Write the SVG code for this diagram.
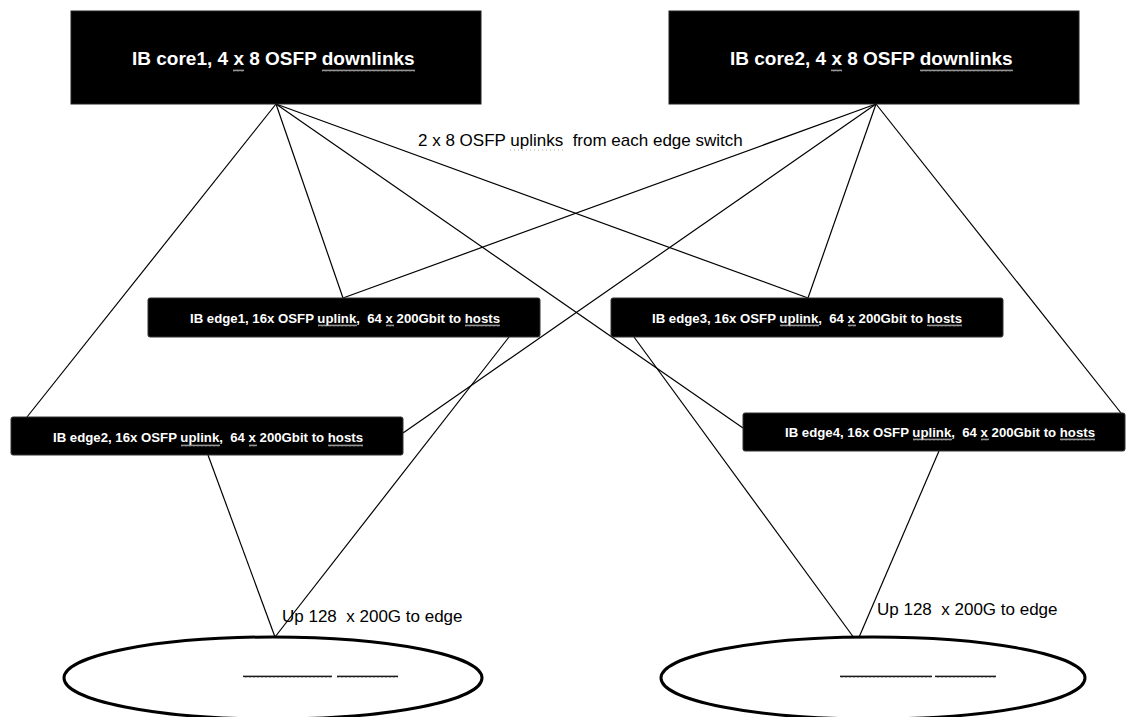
<svg xmlns="http://www.w3.org/2000/svg" width="1126" height="717" viewBox="0 0 1126 717">
<style>
text{white-space:pre}
.core{fill:#000;stroke:#222;stroke-width:1}
.edge{fill:#000;stroke:#333;stroke-width:1}
.ct{font-family:"Liberation Sans",Arial,sans-serif;font-weight:bold;font-size:19px;fill:#fff}
.et{font-family:"Liberation Sans",Arial,sans-serif;font-weight:bold;font-size:13.2px;fill:#fff}
.lbl{font-family:"Liberation Sans",Arial,sans-serif;font-size:17px;fill:#000}
.conn line{stroke:#000;stroke-width:1.2}
.pool{fill:#fff;stroke:#000;stroke-width:3}
</style>
<defs>
<pattern id="wg" width="4" height="3" patternUnits="userSpaceOnUse"><path d="M0 2.4 L1 0.6 L2 2.4 L3 0.6 L4 2.4" fill="none" stroke="#bbb" stroke-width="0.8"/></pattern>
<pattern id="wk" width="4" height="3" patternUnits="userSpaceOnUse"><path d="M0 2.4 L1 0.6 L2 2.4 L3 0.6 L4 2.4" fill="none" stroke="#000" stroke-width="0.9"/></pattern>
</defs>
<rect width="1126" height="717" fill="#fff"/>
<g id="connectors" class="conn">
<line x1="276" y1="104" x2="27" y2="417"/>
<line x1="276" y1="104" x2="343" y2="298"/>
<line x1="276" y1="104" x2="808" y2="298"/>
<line x1="276" y1="104" x2="743" y2="428"/>
<line x1="876" y1="104" x2="343" y2="298"/>
<line x1="876" y1="104" x2="403" y2="433"/>
<line x1="876" y1="104" x2="808" y2="298"/>
<line x1="876" y1="104" x2="1121" y2="413"/>
<line x1="509" y1="337" x2="275" y2="637"/>
<line x1="208" y1="455" x2="275" y2="637"/>
<line x1="634" y1="337" x2="857" y2="642"/>
<line x1="939" y1="451" x2="857" y2="642"/>
</g>
<g id="core1">
<rect class="core" x="71" y="11" width="410" height="93"/>
<text class="ct" x="132" y="65">IB core1, 4 x 8 OSFP downlinks</text>
<rect x="233" y="69" width="11" height="3" fill="url(#wg)"/>
<rect x="322" y="69" width="93" height="3" fill="url(#wg)"/>
</g>
<g id="core2">
<rect class="core" x="669" y="11" width="410" height="93"/>
<text class="ct" x="730" y="65">IB core2, 4 x 8 OSFP downlinks</text>
<rect x="831" y="69" width="11" height="3" fill="url(#wg)"/>
<rect x="920" y="69" width="93" height="3" fill="url(#wg)"/>
</g>
<g id="uplinks-label">
<text class="lbl" x="418" y="146">2 x 8 OSFP uplinks  from each edge switch</text>
<line x1="510" y1="150" x2="564" y2="150" stroke="#aaa" stroke-width="1" stroke-dasharray="1 3"/>
</g>
<g id="edge1">
<rect class="edge" x="148" y="298" width="392" height="39" rx="2"/>
<text class="et" x="190" y="323" textLength="310">IB edge1, 16x OSFP uplink,  64 x 200Gbit to hosts</text>
<rect x="318" y="324" width="39" height="3" fill="url(#wg)"/>
<rect x="386" y="324" width="8" height="3" fill="url(#wg)"/>
<rect x="465" y="324" width="35" height="3" fill="url(#wg)"/>
</g>
<g id="edge3">
<rect class="edge" x="611" y="298" width="392" height="39" rx="2"/>
<text class="et" x="652" y="323" textLength="310">IB edge3, 16x OSFP uplink,  64 x 200Gbit to hosts</text>
<rect x="780" y="324" width="39" height="3" fill="url(#wg)"/>
<rect x="848" y="324" width="8" height="3" fill="url(#wg)"/>
<rect x="927" y="324" width="35" height="3" fill="url(#wg)"/>
</g>
<g id="edge2">
<rect class="edge" x="11" y="417" width="392" height="38" rx="2"/>
<text class="et" x="53" y="442" textLength="310">IB edge2, 16x OSFP uplink,  64 x 200Gbit to hosts</text>
<rect x="181" y="444" width="39" height="3" fill="url(#wg)"/>
<rect x="249" y="444" width="8" height="3" fill="url(#wg)"/>
<rect x="328" y="444" width="35" height="3" fill="url(#wg)"/>
</g>
<g id="edge4">
<rect class="edge" x="743" y="413" width="382" height="38" rx="2"/>
<text class="et" x="785" y="437" textLength="310">IB edge4, 16x OSFP uplink,  64 x 200Gbit to hosts</text>
<rect x="913" y="438" width="39" height="3" fill="url(#wg)"/>
<rect x="981" y="438" width="8" height="3" fill="url(#wg)"/>
<rect x="1060" y="438" width="35" height="3" fill="url(#wg)"/>
</g>
<g id="hosts-left">
<ellipse class="pool" cx="273" cy="678" rx="209" ry="41"/>
<rect x="243" y="675" width="89" height="3" fill="url(#wk)"/>
<rect x="337" y="675" width="61" height="3" fill="url(#wk)"/>
<text class="lbl" x="282" y="622">Up 128  x 200G to edge</text>
</g>
<g id="hosts-right">
<ellipse class="pool" cx="873" cy="678" rx="212" ry="41"/>
<rect x="840" y="675" width="92" height="3" fill="url(#wk)"/>
<rect x="935" y="675" width="61" height="3" fill="url(#wk)"/>
<text class="lbl" x="877" y="615">Up 128  x 200G to edge</text>
</g>
</svg>
